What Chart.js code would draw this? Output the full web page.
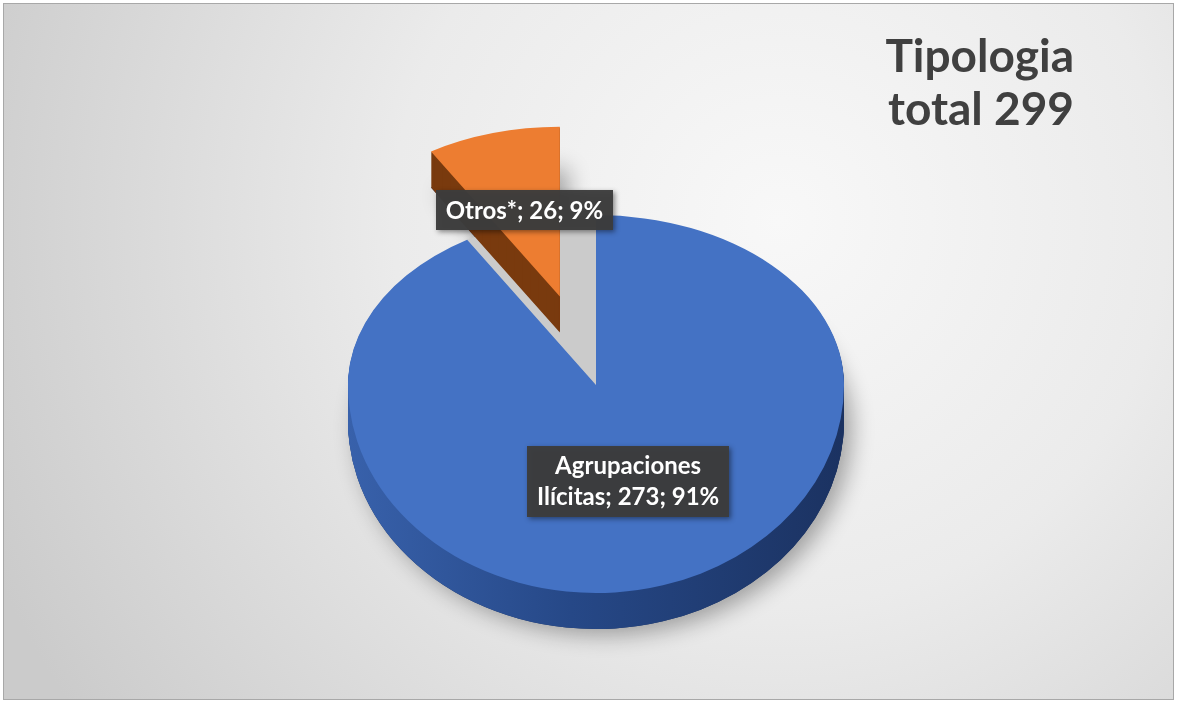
<!DOCTYPE html>
<html><head><meta charset="utf-8">
<script src="https://cdn.jsdelivr.net/npm/chart.js@4"></script>
<style>html,body{margin:0;padding:0;background:#fff;overflow:hidden}#wrap{width:1177px;height:703px}</style>
</head><body><div id="wrap"><canvas id="c" width="1177" height="703"></canvas></div>
<script>
// ---- data ----
const categories = ['Agrupaciones Ilícitas', 'Otros*'];
const values = [273, 26];
const titleWord = 'Tipologia';
const totalWord = 'total';

// ---- styles ----
const topColors = ['#4472c4', '#ed7d31'];
const explode = [0, 134];          // explosion distance of each slice (px)
const labelFrac = [0.48, 0.53];    // label position along slice radius
const FONT = 'Lato, "Open Sans", sans-serif';

const total = values.reduce((a, b) => a + b, 0);
const titleLines = [titleWord, totalWord + ' ' + total];
const labelTexts = categories.map((c, i) => c + '; ' + values[i] + '; ' + Math.round(values[i] / total * 100) + '%');

// perspective approximation: far half flatter than near half
const S_FAR = 0.685, S_NEAR = 0.839, DEPTH = 36;

function drawWith(el, ctx, color) {
  const proxy = Object.create(el);
  proxy.options = Object.assign({}, el.options, { backgroundColor: color, borderWidth: 0, offset: 0 });
  el.draw.call(proxy, ctx);
}
function drawTilted(chart, el, i, color, dy, shadow, noExplode) {
  const ctx = chart.ctx, W = chart.width, H = chart.height;
  const cx = el.x, cy = el.y;
  const mid = (el.startAngle + el.endAngle) / 2;
  const t = noExplode ? 0 : (explode[i] || 0);
  [[S_FAR, 0], [S_NEAR, 1]].forEach(([s, lower]) => {
    ctx.save();
    ctx.beginPath();
    if (lower) ctx.rect(0, cy + dy, W, H); else ctx.rect(0, 0, W, cy + dy);
    ctx.clip();
    if (shadow) { ctx.shadowColor = shadow.c; ctx.shadowBlur = shadow.b; ctx.shadowOffsetX = shadow.x; ctx.shadowOffsetY = shadow.y; }
    ctx.translate(0, dy);
    ctx.translate(cx, cy); ctx.scale(1, s); ctx.translate(-cx, -cy);
    ctx.translate(Math.cos(mid) * t, Math.sin(mid) * t);
    drawWith(el, ctx, color);
    ctx.restore();
  });
}
function project(el, i, rr) {
  const mid = (el.startAngle + el.endAngle) / 2;
  const r = rr + (explode[i] || 0);
  const y = Math.sin(mid) * r;
  return { x: el.x + Math.cos(mid) * r, y: el.y + y * (y < 0 ? S_FAR : S_NEAR) };
}

const bgPlugin = {
  id: 'bg',
  beforeDraw(chart) {
    const ctx = chart.ctx, W = chart.width, H = chart.height;
    ctx.save();
    ctx.fillStyle = '#ffffff'; ctx.fillRect(0, 0, W, H);
    const g = ctx.createRadialGradient(780, 220, 0, 780, 220, 860);
    g.addColorStop(0, '#f8f8f8'); g.addColorStop(0.45, '#ebebeb'); g.addColorStop(1, '#cbcbcb');
    ctx.fillStyle = g; ctx.fillRect(3, 3, W - 6, H - 6);
    ctx.strokeStyle = '#a8a8a8'; ctx.lineWidth = 1; ctx.strokeRect(3.5, 3.5, W - 7, H - 7);
    ctx.restore();
  }
};

const pie3d = {
  id: 'pie3d',
  beforeDatasetsDraw(chart) {
    const ctx = chart.ctx;
    const els = chart.getDatasetMeta(0).data;
    const cx = els[0].x, r = els[0].outerRadius;
    const sideBlue = ctx.createLinearGradient(cx - r, 0, cx + r, 0);
    sideBlue.addColorStop(0, '#3861ab'); sideBlue.addColorStop(0.45, '#264887'); sideBlue.addColorStop(1, '#1b3261');
    const sideColors = [sideBlue, '#793a0e'];
    const drop = { c: 'rgba(0,0,0,0.33)', b: 22, x: 8, y: 6 };
    els.forEach((el, i) => drawTilted(chart, el, i, '#1b3261', DEPTH, drop));
    // hole left by exploded slices
    els.forEach((el, i) => { if (explode[i]) drawTilted(chart, el, i, '#cbcbcb', 0, { c: 'rgba(0,0,0,0.15)', b: 6, x: 0, y: 0 }, true); });
    for (let d = DEPTH; d >= 1; d--) {
      els.forEach((el, i) => drawTilted(chart, el, i, sideColors[i], d, null));
    }
    els.forEach((el, i) => drawTilted(chart, el, i, topColors[i], 0, null));
    return false;
  },
};

function wrap(ctx, text, maxW) {
  const words = text.split(' ');
  const lines = []; let cur = '';
  words.forEach(w => {
    const t = cur ? cur + ' ' + w : w;
    if (cur && ctx.measureText(t).width > maxW) { lines.push(cur); cur = w; } else cur = t;
  });
  if (cur) lines.push(cur);
  return lines;
}
const labelsPlugin = {
  id: 'lbls',
  afterDraw(chart) {
    const ctx = chart.ctx;
    const els = chart.getDatasetMeta(0).data;
    ctx.save();
    ctx.font = 'bold 24px ' + FONT;
    els.forEach((el, i) => {
      const p = project(el, i, el.outerRadius * labelFrac[i]);
      const lines = wrap(ctx, labelTexts[i], 200);
      const lh = 31;
      const w = Math.max(...lines.map(l => ctx.measureText(l).width)) + 20;
      const h = lines.length * lh + 9;
      ctx.save();
      ctx.shadowColor = 'rgba(0,0,0,0.45)'; ctx.shadowBlur = 5; ctx.shadowOffsetX = 2; ctx.shadowOffsetY = 2;
      ctx.fillStyle = 'rgba(60,60,60,0.96)';
      ctx.fillRect(Math.round(p.x - w / 2), Math.round(p.y - h / 2), Math.round(w), h);
      ctx.restore();
      ctx.fillStyle = '#ffffff'; ctx.textAlign = 'center'; ctx.textBaseline = 'middle';
      lines.forEach((l, k) => ctx.fillText(l, p.x, p.y - (lines.length - 1) * lh / 2 + k * lh + 1));
    });
    // title
    ctx.fillStyle = '#404040'; ctx.textAlign = 'right'; ctx.textBaseline = 'alphabetic';
    ctx.font = 'bold 46px ' + FONT;
    ctx.fillText(titleLines[0], 1074, 72);
    ctx.fillText(titleLines[1], 1074, 125);
    ctx.restore();
  }
};

new Chart(document.getElementById('c'), {
  type: 'pie',
  data: { labels: categories, datasets: [{ data: values, backgroundColor: topColors, borderWidth: 0 }] },
  options: {
    responsive: false, animation: false, events: [],
    radius: 248,
    layout: { padding: { left: 15, top: 67, right: 0, bottom: 0 } },
    plugins: { legend: { display: false }, tooltip: { enabled: false }, title: { display: false } }
  },
  plugins: [bgPlugin, pie3d, labelsPlugin]
});
</script></body></html>
